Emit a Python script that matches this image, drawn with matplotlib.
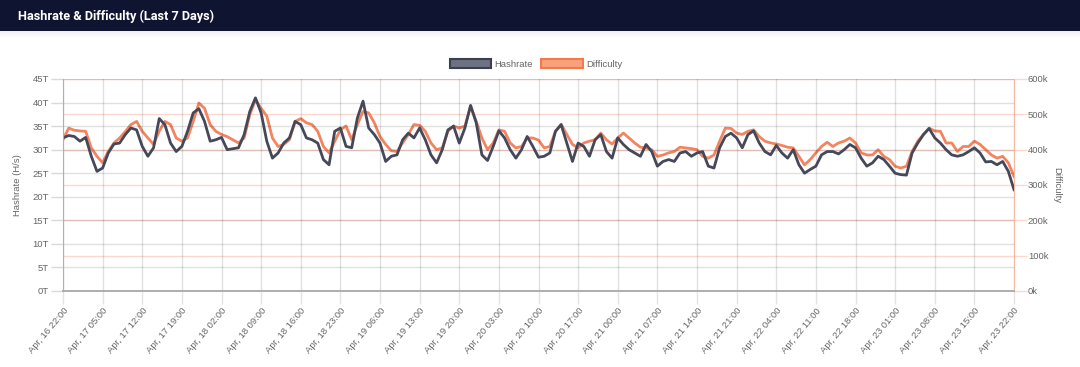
import numpy as np
import matplotlib
matplotlib.use("Agg")
import matplotlib.pyplot as plt
from matplotlib.patches import Rectangle, Patch

# hourly values, Apr 16 22:00 -> Apr 23 22:00
hashrate = [32.5, 33.0, 32.8, 31.8, 32.6, 28.6, 25.4, 26.1, 29.3, 31.2,
            31.4, 33.2, 34.6, 34.2, 30.7, 28.6, 30.4, 36.6, 35.3, 31.4,
            29.6, 30.7, 33.9, 37.8, 38.7, 36.0, 31.8, 32.1, 32.6, 30.0,
            30.2, 30.4, 33.2, 38.1, 41.0, 37.8, 31.8, 28.2, 29.3, 31.4,
            32.5, 36.0, 35.3, 32.5, 32.1, 31.4, 27.9, 26.8, 33.9, 34.6,
            30.7, 30.4, 36.7, 40.3, 34.6, 33.2, 31.4, 27.5, 28.6, 28.9,
            32.1, 33.5, 32.5, 34.6, 32.1, 28.9, 27.2, 30.0, 34.2, 35.0,
            31.4, 34.6, 39.4, 35.7, 28.9, 27.7, 30.7, 34.0, 32.5, 30.0,
            28.2, 30.0, 32.8, 30.7, 28.4,
            28.6, 29.3, 33.9, 35.3, 31.4, 27.5, 31.4, 30.7, 28.6, 32.1,
            33.2, 29.6, 28.2, 32.5, 31.1, 30.0, 29.3, 28.6, 31.1, 29.6,
            26.5, 27.5, 27.9, 27.5, 29.3, 29.6, 28.6, 29.3, 29.6, 26.5,
            26.1, 30.4, 32.8, 33.5, 32.5, 30.4, 33.2, 34.0, 31.4, 29.6,
            28.9, 30.9, 29.3, 28.2, 30.0, 26.8, 25.0, 25.8, 26.5, 28.9,
            29.6, 29.6, 29.1, 30.0, 31.1, 30.4, 28.2, 26.5, 27.2, 28.6,
            27.9, 26.5, 25.0, 24.7, 24.6, 29.3, 31.4, 33.2, 34.5, 32.5,
            31.4, 30.0, 28.9, 28.6, 28.9, 29.6, 30.4, 29.3, 27.4, 27.5,
            26.8, 27.5, 25.4, 21.5]

# difficulty in thousands
difficulty = [428, 461, 455, 453, 452, 405, 381, 363, 395, 419,
              433, 451, 471, 480, 452, 433, 415, 452, 480, 471,
              433, 424, 433, 480, 532, 517, 471, 452, 443, 437,
              428, 419, 433, 499, 541, 517, 495, 433, 409, 415,
              428, 480, 488, 476, 471, 452, 409, 391, 424, 456,
              467, 428, 471, 508, 504, 476, 437, 415, 397, 395,
              419, 443, 471, 469, 452, 419, 400, 405, 452, 467,
              461, 467, 523, 480, 433, 400, 419, 456, 452, 419,
              405, 409, 433, 433, 427,
              405, 409, 452, 472, 443, 415, 405, 419, 424, 428,
              447, 428, 416, 433, 447, 433, 419, 407, 405, 400,
              381, 385, 391, 395, 407, 405, 403, 400, 381, 376,
              385, 424, 461, 460, 447, 443, 452, 456, 437, 424,
              419, 416, 412, 407, 405, 381, 357, 372, 391, 409,
              421, 409, 419, 424, 433, 419, 391, 385, 385, 400,
              381, 372, 353, 348, 353, 395, 424, 443, 461, 453,
              452, 419, 419, 395, 409, 409, 424, 415, 400, 385,
              376, 381, 363, 324]

tick_hours = list(range(0, 169, 7))
tick_labels = ["Apr, 16 22:00", "Apr, 17 05:00", "Apr, 17 12:00", "Apr, 17 19:00",
               "Apr, 18 02:00", "Apr, 18 09:00", "Apr, 18 16:00", "Apr, 18 23:00",
               "Apr, 19 06:00", "Apr, 19 13:00", "Apr, 19 20:00", "Apr, 20 03:00",
               "Apr, 20 10:00", "Apr, 20 17:00", "Apr, 21 00:00", "Apr, 21 07:00",
               "Apr, 21 14:00", "Apr, 21 21:00", "Apr, 22 04:00", "Apr, 22 11:00",
               "Apr, 22 18:00", "Apr, 23 01:00", "Apr, 23 08:00", "Apr, 23 15:00",
               "Apr, 23 22:00"]
hash_ticks = list(range(0, 46, 5))
diff_ticks = list(range(0, 601, 100))

W, H = 1080, 367
dark = "#444859"
orange = "#f4845f"
grey_txt = "#666666"
fs = 6.8
plt.rcParams["font.family"] = ["Liberation Sans", "DejaVu Sans"]

fig = plt.figure(figsize=(W / 100, H / 100), dpi=100)
fig.patch.set_facecolor("white")

# header band
fig.add_artist(Rectangle((0, 1 - 31 / H), 1, 31 / H, transform=fig.transFigure,
                         facecolor="#0f1431", edgecolor="none"))
for i in range(6):
    fig.add_artist(Rectangle((0, 1 - (32 + i) / H), 1, 1 / H, transform=fig.transFigure,
                             facecolor="black", alpha=0.06 - i * 0.009, edgecolor="none"))
fig.text(18 / W, 1 - 16 / H, "Hashrate & Difficulty (Last 7 Days)", color="white",
         fontsize=9.2, fontweight="bold", family=["Roboto", "DejaVu Sans"], va="center")

ax = fig.add_axes([63 / W, 1 - 291 / H, 951 / W, 212 / H])
ax2 = ax.twinx()
ax.set_zorder(ax2.get_zorder() + 1)
ax.patch.set_visible(False)

x = np.arange(len(hashrate))
ax2.plot(np.arange(len(difficulty)), difficulty, color=orange, lw=2.0, solid_joinstyle="round")
ax.plot(x, hashrate, color=dark, lw=2.0, solid_joinstyle="round")

ax.set_xlim(0, 168)
ax.set_ylim(0, 45)
ax2.set_ylim(0, 600)

ax.set_yticks(hash_ticks)
ax.set_yticklabels([f"{v}T" for v in hash_ticks])
ax2.set_yticks(diff_ticks)
ax2.set_yticklabels([f"{v}k" for v in diff_ticks])
ax.set_xticks(tick_hours)
ax.set_xticklabels(tick_labels, rotation=50, ha="right", va="top", rotation_mode="anchor")

ax.grid(True, color="black", alpha=0.12, lw=1)
ax2.grid(True, axis="y", color=orange, alpha=0.3, lw=1)
ax2.grid(False, axis="x")

ax.tick_params(axis="y", length=9, width=1, color="#d9d9d9", labelsize=fs,
               labelcolor=grey_txt, pad=1)
ax.tick_params(axis="x", length=9, width=1, color="#e3e3e3", labelsize=fs,
               labelcolor=grey_txt, pad=2)
ax2.tick_params(axis="y", length=9, width=1, color="#fcd9cc", labelsize=fs,
                labelcolor=grey_txt, pad=1)

ax.spines["top"].set_visible(False)
ax2.spines["top"].set_visible(False)
ax.spines["left"].set_color("#b0b0b0")
ax.spines["bottom"].set_color("#a8a8a8")
ax.spines["bottom"].set_linewidth(1.3)
ax.spines["right"].set_visible(False)
ax2.spines["left"].set_visible(False)
ax2.spines["bottom"].set_visible(False)
ax2.spines["right"].set_color("#f7b79f")

ax.set_ylabel("Hashrate (H/s)", color=grey_txt, fontsize=fs)
ax.yaxis.set_label_coords(-0.043, 0.5)
ax2.set_ylabel("Difficulty", color=grey_txt, fontsize=fs, rotation=270, va="center")
ax2.yaxis.set_label_coords(1.045, 0.5)

handles = [Patch(facecolor="#6d7182", edgecolor="#3b3f50", lw=1.5, label="Hashrate"),
           Patch(facecolor="#f9a07c", edgecolor="#f27a46", lw=1.5, label="Difficulty")]
fig.legend(handles=handles, loc="center", bbox_to_anchor=(536 / W, 1 - 64 / H), ncol=2,
           frameon=False, fontsize=fs, labelcolor=grey_txt, handlelength=4.4,
           handleheight=1.05, handletextpad=0.35, columnspacing=0.9)

fig.savefig("out.png", dpi=100, facecolor="white")
